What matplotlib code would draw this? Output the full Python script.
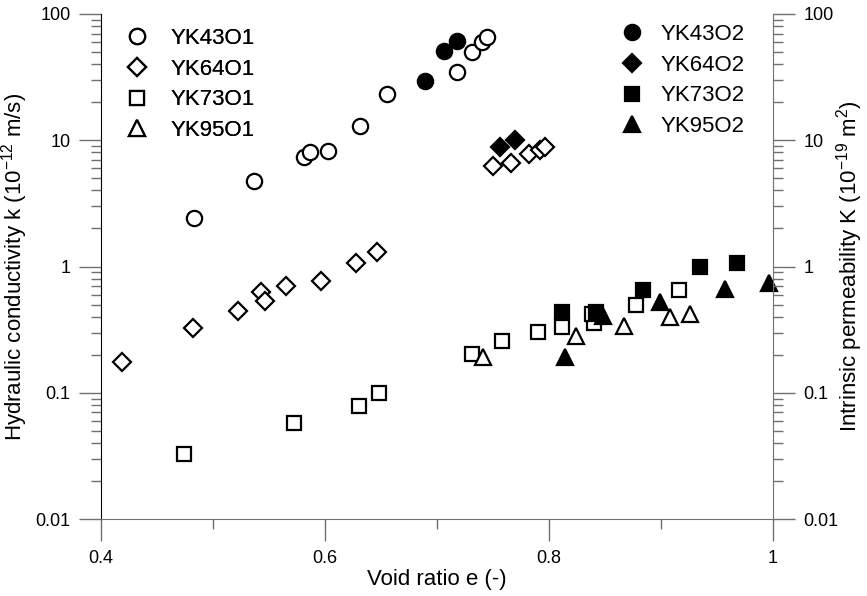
import numpy as np
import matplotlib
matplotlib.use('Agg')
import matplotlib.pyplot as plt
from matplotlib.lines import Line2D

plt.rcParams['font.family'] = ['Liberation Sans', 'DejaVu Sans']
plt.rcParams['mathtext.fontset'] = 'custom'
plt.rcParams['mathtext.rm'] = 'Liberation Sans'
plt.rcParams['mathtext.it'] = 'Liberation Sans'

# void ratio e / hydraulic conductivity k (10^-12 m/s)
yk43o1_e = [0.483, 0.537, 0.581, 0.587, 0.603, 0.631, 0.655, 0.718, 0.731, 0.740, 0.745]
yk43o1_k = [2.41, 4.76, 7.4, 8.1, 8.2, 13.0, 23.1, 34.9, 50.3, 60.3, 66.0]
yk64o1_e = [0.419, 0.482, 0.522, 0.543, 0.546, 0.565, 0.596, 0.628, 0.646,
            0.750, 0.766, 0.782, 0.792, 0.796]
yk64o1_k = [0.174, 0.324, 0.444, 0.625, 0.536, 0.705, 0.772, 1.06, 1.31,
            6.29, 6.57, 7.78, 8.37, 8.9]
yk73o1_e = [0.474, 0.572, 0.630, 0.648, 0.731, 0.758, 0.790, 0.812, 0.840, 0.838, 0.878, 0.916]
yk73o1_k = [0.0327, 0.058, 0.079, 0.099, 0.204, 0.257, 0.305, 0.330, 0.355, 0.42, 0.50, 0.65]
yk95o1_e = [0.741, 0.824, 0.867, 0.908, 0.926]
yk95o1_k = [0.191, 0.282, 0.338, 0.40, 0.418]

yk43o2_e = [0.689, 0.706, 0.718]
yk43o2_k = [29.6, 51.2, 61.5]
yk64o2_e = [0.756, 0.770]
yk64o2_k = [8.9, 10.0]
yk73o2_e = [0.812, 0.842, 0.884, 0.935, 0.968]
yk73o2_k = [0.44, 0.44, 0.65, 1.0, 1.07]
yk95o2_e = [0.814, 0.848, 0.899, 0.957, 0.996]
yk95o2_k = [0.193, 0.405, 0.52, 0.66, 0.74]

fig = plt.figure(figsize=(8.67, 5.96), dpi=100)
ax = fig.add_axes([101/867, 1 - 519/596, 672/867, 505/596])

ms = 11
mew = 1.6
series = [
    ('YK43O1', yk43o1_e, yk43o1_k, 'o', 'white', ms),
    ('YK64O1', yk64o1_e, yk64o1_k, 'D', 'white', ms * 0.85),
    ('YK73O1', yk73o1_e, yk73o1_k, 's', 'white', ms * 0.95),
    ('YK95O1', yk95o1_e, yk95o1_k, '^', 'white', ms * 1.05),
    ('YK43O2', yk43o2_e, yk43o2_k, 'o', 'black', ms),
    ('YK64O2', yk64o2_e, yk64o2_k, 'D', 'black', ms * 0.85),
    ('YK73O2', yk73o2_e, yk73o2_k, 's', 'black', ms * 0.95),
    ('YK95O2', yk95o2_e, yk95o2_k, '^', 'black', ms * 1.05),
]
handles = []
for name, e, k, m, fc, size in series:
    ax.plot(e, k, linestyle='none', marker=m, markersize=size, markerfacecolor=fc,
            markeredgecolor='black', markeredgewidth=mew, clip_on=False)
    handles.append(Line2D([], [], linestyle='none', marker=m, markersize=size,
                          markerfacecolor=fc, markeredgecolor='black',
                          markeredgewidth=mew, label=name))

ax.set_xlim(0.4, 1.0)
ax.set_yscale('log')
ax.set_ylim(0.01, 100)
ax.set_xticks([0.4, 0.6, 0.8, 1.0])
ax.set_xticklabels(['0.4', '0.6', '0.8', '1'])
ax.set_xticks([0.5, 0.7, 0.9], minor=True)
ax.set_yticks([0.01, 0.1, 1, 10, 100])
ax.set_yticklabels(['0.01', '0.1', '1', '10', '100'])

gray = '#707070'
ax.spines['top'].set_visible(False)
ax.spines['right'].set_visible(False)
ax.spines['bottom'].set_color(gray)
ax.spines['left'].set_color('black')
ax.tick_params(which='major', length=16, width=1, color=gray, labelsize=13, pad=6)
ax.tick_params(which='minor', length=7, width=1, color=gray)
ax.set_xlabel('Void ratio e (-)', fontsize=16, labelpad=2)
ax.set_ylabel('Hydraulic conductivity k (10$^{-12}$ m/s)', fontsize=16)
ax.yaxis.label.set_verticalalignment('center')
ax.yaxis.set_label_coords(-0.128, 0.5)

ax2 = ax.twinx()
ax2.set_yscale('log')
ax2.set_ylim(0.01, 100)
ax2.set_yticks([0.01, 0.1, 1, 10, 100])
ax2.set_yticklabels(['0.01', '0.1', '1', '10', '100'])
for s in ['top', 'left', 'bottom']:
    ax2.spines[s].set_visible(False)
ax2.spines['right'].set_color(gray)
ax2.tick_params(which='major', length=16, width=1, color=gray, labelsize=13, pad=6)
ax2.tick_params(which='minor', length=7, width=1, color=gray)
ax2.set_ylabel('Intrinsic permeability K (10$^{-19}$ m$^2$)', fontsize=16)
ax2.yaxis.label.set_verticalalignment('center')
ax2.yaxis.set_label_coords(1.114, 0.5)

leg1 = ax.legend(handles=handles[:4], loc='upper left', frameon=False, fontsize=16,
                 handlelength=1.0, handletextpad=1.0, labelspacing=0.44,
                 borderaxespad=0, bbox_to_anchor=(117/867, 1 - 19/596),
                 bbox_transform=fig.transFigure)
ax.add_artist(leg1)
leg2 = ax2.legend(handles=handles[4:], loc='upper left', frameon=False, fontsize=16,
                  handlelength=1.0, handletextpad=0.8, labelspacing=0.44,
                  borderaxespad=0, bbox_to_anchor=(612/867, 1 - 15/596),
                  bbox_transform=fig.transFigure)

fig.savefig('out.png', dpi=100)
